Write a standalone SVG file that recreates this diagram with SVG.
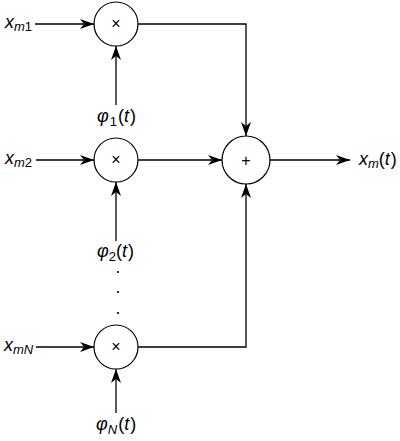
<svg xmlns="http://www.w3.org/2000/svg" width="400" height="441" viewBox="0 0 400 441">
<style>
.c{fill:#fff;stroke:#000;stroke-width:1.2}
.l{fill:none;stroke:#000;stroke-width:1.3}
.t{font-family:"Liberation Sans",Arial,sans-serif;font-style:italic;font-size:18px;fill:#000}
.s{font-size:13px}
.u{font-style:normal}
.op{font-family:"Liberation Sans",Arial,sans-serif;font-size:16px;fill:#000;text-anchor:middle}
</style>
<defs>
<marker id="a" viewBox="0 0 14 10" refX="14" refY="5" markerWidth="14" markerHeight="10" markerUnits="userSpaceOnUse" orient="auto">
<path d="M0,0 L14,5 L0,10 L4,5 Z" fill="#000"/>
</marker>
</defs>
<g id="connectors">
<line class="l" x1="35" y1="24" x2="94" y2="24" marker-end="url(#a)"/>
<line class="l" x1="116" y1="105" x2="116" y2="46" marker-end="url(#a)"/>
<line class="l" x1="36" y1="160" x2="94" y2="160" marker-end="url(#a)"/>
<line class="l" x1="116" y1="241" x2="116" y2="182" marker-end="url(#a)"/>
<line class="l" x1="36" y1="347" x2="94" y2="347" marker-end="url(#a)"/>
<line class="l" x1="116" y1="413" x2="116" y2="369" marker-end="url(#a)"/>
<polyline class="l" points="138,24 246,24 246,136" marker-end="url(#a)"/>
<line class="l" x1="138" y1="160" x2="222" y2="160" marker-end="url(#a)"/>
<polyline class="l" points="138,347 246,347 246,184" marker-end="url(#a)"/>
<line class="l" x1="270" y1="160" x2="350" y2="160" marker-end="url(#a)"/>
</g>
<g id="mult1"><circle class="c" cx="116" cy="24" r="22"/><text class="op" x="116" y="29">×</text></g>
<g id="mult2"><circle class="c" cx="116" cy="160" r="22"/><text class="op" x="116" y="165">×</text></g>
<g id="multN"><circle class="c" cx="116" cy="347" r="22"/><text class="op" x="116" y="352">×</text></g>
<g id="sum"><circle class="c" cx="246" cy="160" r="24"/><text class="op" x="246" y="166">+</text></g>
<g id="labels">
<text class="t" x="5" y="28">x<tspan class="s" dy="3">m</tspan><tspan class="s u">1</tspan></text>
<text class="t" x="5" y="164">x<tspan class="s" dy="3">m</tspan><tspan class="s u">2</tspan></text>
<text class="t" x="4" y="351">x<tspan class="s" dy="3">mN</tspan></text>
<text class="t" x="359" y="165">x<tspan class="s" dy="3">m</tspan><tspan class="u" dy="-3">(</tspan>t<tspan class="u" dx="1">)</tspan></text>
<text class="t" x="97" y="122">φ<tspan class="s u" dx="1" dy="4">1</tspan><tspan class="u" dx="1" dy="-4">(</tspan>t<tspan class="u" dx="1">)</tspan></text>
<text class="t" x="97" y="257">φ<tspan class="s u" dy="4">2</tspan><tspan class="u" dy="-4">(</tspan>t<tspan class="u" dx="1">)</tspan></text>
<text class="t" x="96" y="430">φ<tspan class="s" dy="4">N</tspan><tspan class="u" dx="1" dy="-4">(</tspan>t<tspan class="u" dx="1">)</tspan></text>
<circle cx="118" cy="272" r="1.1" fill="#000"/>
<circle cx="118" cy="292" r="1.1" fill="#000"/>
<circle cx="118" cy="313" r="1.1" fill="#000"/>
</g>
</svg>
